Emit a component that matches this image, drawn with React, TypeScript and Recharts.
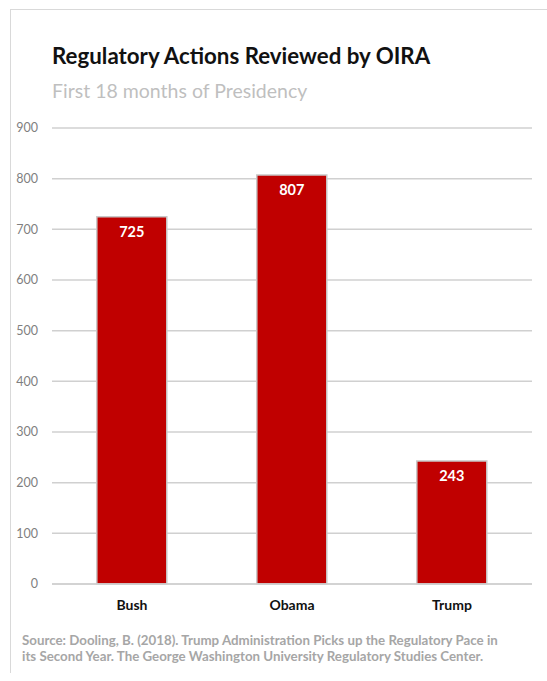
import React from 'react';
import { BarChart, Bar, XAxis, YAxis, CartesianGrid, LabelList } from 'recharts';

const presidents = ['Bush', 'Obama', 'Trump'];
const actions = [725, 807, 243];
const yTicks = [0, 100, 200, 300, 400, 500, 600, 700, 800, 900];

const data = presidents.map((name, i) => ({ name, value: actions[i] }));

const FONT = 'Lato, "Open Sans", sans-serif';

export default function App() {
  return (
    <div
      style={{
        position: 'absolute',
        left: 0,
        top: 0,
        width: 547,
        height: 681,
        background: '#fff',
        fontFamily: FONT,
        overflow: 'hidden',
      }}
    >
      {/* frame */}
      <div
        style={{
          position: 'absolute',
          left: 10,
          top: 9,
          width: 560,
          height: 663,
          borderLeft: '1px solid #d9d9d9',
          borderTop: '1px solid #d9d9d9',
        }}
      />
      <div
        style={{
          position: 'absolute',
          left: 52,
          top: 42,
          fontSize: 22.3,
          fontWeight: 700,
          color: '#111',
          whiteSpace: 'nowrap',
        }}
      >
        Regulatory Actions Reviewed by OIRA
      </div>
      <div
        style={{
          position: 'absolute',
          left: 52,
          top: 79,
          fontSize: 19.5,
          color: '#bfbfbf',
          whiteSpace: 'nowrap',
        }}
      >
        First 18 months of Presidency
      </div>

      <div style={{ position: 'absolute', left: 0, top: 0 }}>
        <BarChart
          width={547}
          height={681}
          data={data}
          margin={{ top: 128, right: 15, bottom: 67, left: 0 }}
          barCategoryGap="28%"
        >
          <CartesianGrid vertical={false} stroke="#d0d0d0" strokeWidth={1.5} />
          <YAxis
            width={52}
            domain={[0, 900]}
            ticks={yTicks}
            axisLine={false}
            tickLine={false}
            tickSize={0}
            tickMargin={14}
            tick={{ fontSize: 12.5, fill: '#7f7f7f', fontFamily: FONT }}
          />
          <XAxis
            dataKey="name"
            height={30}
            axisLine={{ stroke: '#d0d0d0', strokeWidth: 1.5 }}
            tickLine={false}
            tickSize={0}
            tickMargin={16}
            tick={{ fontSize: 14, fill: '#111', fontWeight: 700, fontFamily: FONT }}
          />
          <Bar dataKey="value" fill="#c00000" stroke="#c8c8c8" strokeWidth={1.5} isAnimationActive={false}>
            <LabelList
              dataKey="value"
              position="insideTop"
              offset={10}
              style={{ fill: '#fff', fontSize: 14.5, fontWeight: 700, fontFamily: FONT }}
            />
          </Bar>
        </BarChart>
      </div>

      <div
        style={{
          position: 'absolute',
          left: 22,
          top: 632,
          width: 530,
          fontSize: 13.3,
          fontWeight: 700,
          lineHeight: '16px',
          color: '#a6a6a6',
          whiteSpace: 'nowrap',
        }}
      >
        Source: Dooling, B. (2018). Trump Administration Picks up the Regulatory Pace in
        <br />
        its Second Year. The George Washington University Regulatory Studies Center.
      </div>
    </div>
  );
}
